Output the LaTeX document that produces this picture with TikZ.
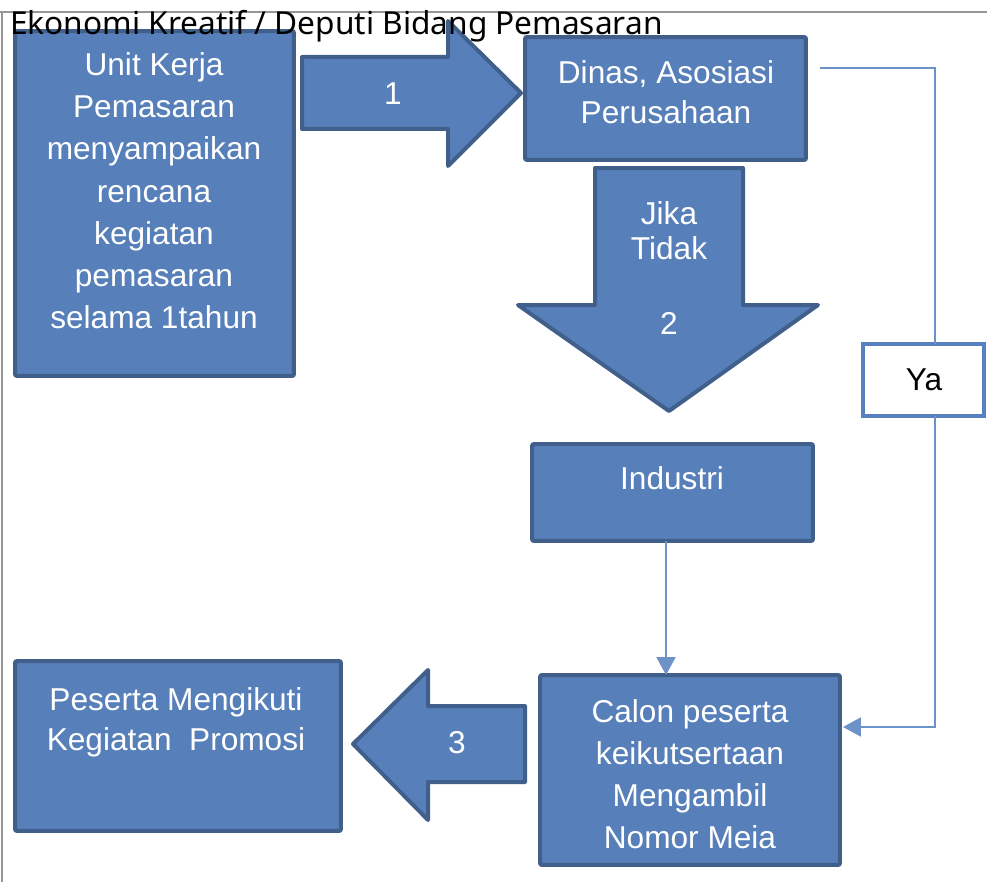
\documentclass[tikz,border=0pt]{standalone}
\usepackage{fontspec}
\setmainfont{Liberation Sans}
\newfontfamily\titlefont{Noto Sans}
\usetikzlibrary{arrows.meta,calc}
\definecolor{boxfill}{RGB}{87,128,186}
\definecolor{boxedge}{RGB}{64,95,139}
\definecolor{connblue}{RGB}{108,146,200}
\definecolor{yaedge}{RGB}{86,128,190}
\definecolor{framegray}{RGB}{150,150,150}
\newcommand\zs{\rule[-5pt]{0pt}{14pt}}
\begin{document}
\begin{tikzpicture}[x=0.02cm,y=-0.02cm,
  bluebox/.style={draw=boxedge,fill=boxfill,line width=0.08cm,rounded corners=0.04cm,inner sep=0,outer sep=0},
  blockarrow/.style={draw=boxedge,fill=boxfill,line width=0.08cm,line join=round},
  wtext/.style={text=white,font=\fontsize{18pt}{24pt}\selectfont,align=center,inner sep=0},
  conn/.style={draw=connblue,line width=0.04cm},
  tip/.style={-{Triangle[width=0.38cm,length=0.36cm]}},
  frameline/.style={draw=framegray,line width=0.04cm}
  ]
\useasboundingbox (0,0) rectangle (987,882);
% frame
\draw[frameline] (0,12) -- (987,12);
\draw[frameline] (2,12) -- (2,882);

% boxes
\node[bluebox,minimum width=5.58cm,minimum height=6.9cm] (unit) at (154.5,203.5) {};
\node[wtext] (unittext) at (154,195) {\zs Unit Kerja\\Pemasaran\\menyampaikan\\rencana\\kegiatan\\pemasaran\\selama 1tahun\zs};

\node[bluebox,minimum width=5.62cm,minimum height=2.46cm] (dinas) at (665.5,98.5) {};
\node[wtext,font=\fontsize{18pt}{22.8pt}\selectfont] (dinastext) at (666,96.4) {\zs Dinas, Asosiasi\\Perusahaan\zs};

\node[bluebox,minimum width=5.62cm,minimum height=1.94cm] (industri) at (672.5,492.5) {};
\node[wtext] (industritext) at (672,482.4) {\zs Industri};

\node[bluebox,minimum width=6.0cm,minimum height=3.8cm] (calon) at (690,770) {};
\node[wtext,font=\fontsize{18pt}{23.8pt}\selectfont] (calontext) at (690,778.6) {\zs Calon peserta\\keikutsertaan\\Mengambil\\Nomor Meia\zs};

\node[bluebox,minimum width=6.52cm,minimum height=3.4cm] (peserta) at (178,746) {};
\node[wtext,font=\fontsize{18pt}{22.8pt}\selectfont] (pesertatext) at (176,723.4) {\zs Peserta Mengikuti\\Kegiatan\ \ Promosi\zs};

\node[draw=yaedge,fill=white,line width=0.08cm,minimum width=2.42cm,minimum height=1.44cm,inner sep=0,outer sep=0] (ya) at (923.5,380) {};
\node[inner sep=0,font=\fontsize{18pt}{24pt}\selectfont] (yatext) at (924,384.4) {\zs Ya};

% block arrows
\draw[blockarrow] (302,57) -- (448,57) -- (448,21) -- (521,93) -- (448,166) -- (448,129) -- (302,129) -- cycle;
\node[wtext] (n1) at (393,98.4) {\zs 1};

\draw[blockarrow] (595,168) -- (743,168) -- (743,305) -- (818,305) -- (669,411) -- (518,305) -- (595,305) -- cycle;
\node[wtext,font=\fontsize{18pt}{19.9pt}\selectfont] (jika) at (669,234.6) {\zs Jika\\Tidak\zs};
\node[wtext] (n2) at (669,327.4) {\zs 2};

\draw[blockarrow] (525,706) -- (428,706) -- (428,670) -- (353,744) -- (428,820) -- (428,782) -- (525,782) -- cycle;
\node[wtext] (n3) at (457,746.4) {\zs 3};

% connectors
\coordinate (dinasout) at (820,68);
\coordinate (yax) at (935,0);
\draw[conn] (dinasout) -| (ya.north -| yax);
\draw[conn,tip] (ya.south -| yax) |- ($(calon.east)+(3,-43)$);
\coordinate (indout) at ($(industri.south)+(-6.5,0)$);
\draw[conn,tip] (indout) -- (indout |- calon.north);

% title
\node[anchor=base west,inner sep=0,font=\titlefont\fontsize{18pt}{22pt}\selectfont] (title) at (10,35) {Ekonomi Kreatif / Deputi Bidang Pemasaran};
\end{tikzpicture}
\end{document}
